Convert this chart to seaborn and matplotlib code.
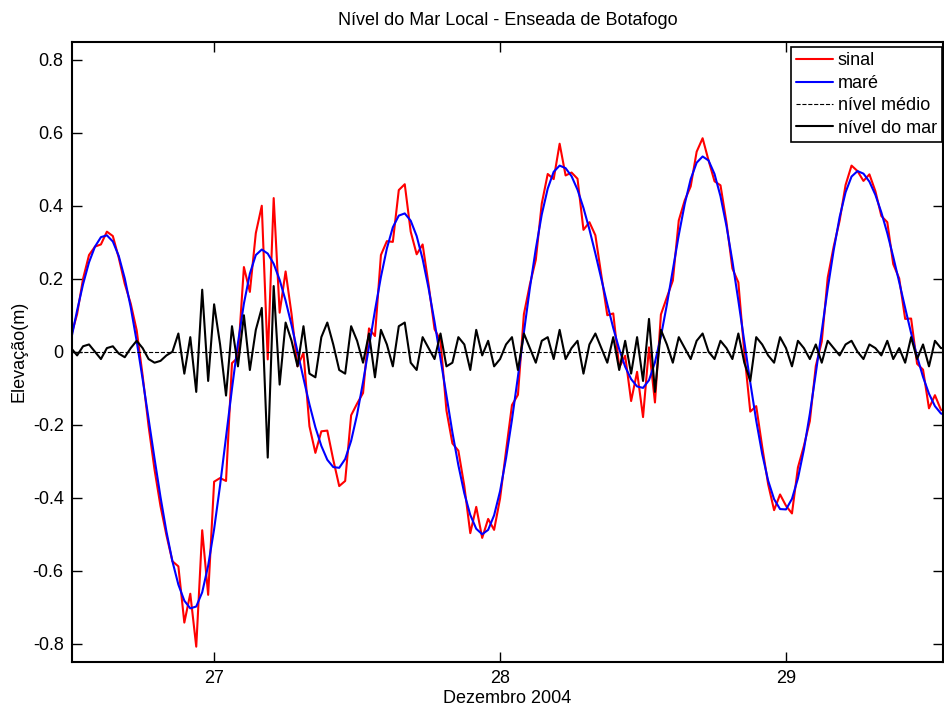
import numpy as np
import matplotlib
matplotlib.use("Agg")
import matplotlib.pyplot as plt
import seaborn as sns

# time grid: 30 min samples, days of December 2004
t0 = 26.5
n_amostras = 148
tempo = t0 + np.arange(n_amostras) / 48.0

# predicted tide (m)
mare = [
    0.034, 0.113, 0.185, 0.245, 0.288, 0.314,
    0.319, 0.302, 0.262, 0.201, 0.122, 0.029, -0.075, -0.184, -0.293, -0.398, -0.493, -0.574, -0.638, -0.682, -0.703,
    -0.698, -0.659, -0.586, -0.486, -0.366, -0.234, -0.101, 0.024, 0.132, 0.214, 0.265,
    0.280, 0.269, 0.241, 0.197, 0.140, 0.073, 0.000, -0.073, -0.144, -0.207, -0.258, -0.296, -0.316,
    -0.318, -0.294, -0.244, -0.172, -0.083, 0.014, 0.113, 0.205, 0.283, 0.341, 0.373,
    0.379, 0.359, 0.317, 0.254, 0.174, 0.082, -0.019, -0.121, -0.221, -0.311, -0.388, -0.447, -0.485, -0.500,
    -0.488, -0.448, -0.382, -0.292, -0.186, -0.068, 0.053, 0.174, 0.282, 0.376, 0.447, 0.493, 0.510,
    0.503, 0.481, 0.444, 0.394, 0.335, 0.269, 0.199, 0.130, 0.065, 0.007, -0.041, -0.075, -0.095,
    -0.099, -0.078, -0.029, 0.042, 0.129, 0.225, 0.320, 0.405, 0.473, 0.518,
    0.535, 0.524, 0.487, 0.426, 0.345, 0.248, 0.140, 0.027, -0.084, -0.189, -0.280, -0.353, -0.404, -0.431,
    -0.432, -0.403, -0.347, -0.268, -0.170, -0.059, 0.058, 0.173, 0.278, 0.369, 0.437, 0.480,
    0.495, 0.488, 0.466, 0.430, 0.382, 0.325, 0.260, 0.191, 0.120, 0.051, -0.013, -0.069, -0.115, -0.149, -0.169, -0.175,
]

# residual sea level (m)
nivel_mar = [
    0.01, -0.01, 0.015, 0.02, 0.00, -0.02, 0.01, 0.015, -0.005, -0.015, 0.01, 0.03,
    0.01, -0.02, -0.03, -0.025, -0.01, 0.00, 0.05, -0.06, 0.04, -0.11, 0.17, -0.08,
    0.13, 0.02, -0.12, 0.07, -0.04, 0.10, -0.05, 0.06, 0.12, -0.29, 0.18, -0.09,
    0.08, 0.03, -0.04, 0.07, -0.06, -0.07, 0.04, 0.08, 0.02, -0.05, -0.06, 0.07,
    0.03, -0.03, 0.05, -0.07, 0.06, 0.02, -0.04, 0.07, 0.08, -0.03, -0.05, 0.04,
    0.01, -0.02, 0.05, -0.04, -0.03, 0.04, 0.02, -0.05, 0.06, -0.01, 0.03, -0.04,
    -0.02, 0.02, 0.04, -0.05, 0.05, 0.01, -0.03, 0.03, 0.04, -0.02, 0.06, -0.02,
    0.01, 0.03, -0.06, 0.02, 0.05, 0.01, -0.03, 0.04, -0.05, 0.03, -0.06, 0.04,
    -0.08, 0.09, -0.11, 0.06, 0.02, -0.03, 0.04, 0.01, -0.02, 0.03, 0.05, 0.00,
    -0.02, 0.03, 0.01, -0.02, 0.05, -0.03, -0.08, 0.04, 0.02, -0.01, -0.03, 0.04,
    0.01, -0.04, 0.03, 0.01, -0.02, 0.02, -0.03, 0.03, 0.01, -0.01, 0.02, 0.03,
    0.00, -0.02, 0.02, 0.01, -0.01, 0.03, -0.02, 0.01, -0.03, 0.04, -0.02, 0.02,
    -0.04, 0.03, 0.01, 0.01,
]

nivel_medio = 0.0

# measured signal = tide + residual
sinal = np.array(mare) + np.array(nivel_mar)

x_ticks = [27, 28, 29]
y_ticks = [-0.8, -0.6, -0.4, -0.2, 0.0, 0.2, 0.4, 0.6, 0.8]
y_labels = ["-0.8", "-0.6", "-0.4", "-0.2", "0", "0.2", "0.4", "0.6", "0.8"]

sns.set_style("ticks")
plt.rcParams["font.family"] = ["Liberation Sans", "DejaVu Sans"]
for key in ["text.color", "axes.labelcolor", "xtick.color", "ytick.color", "axes.edgecolor"]:
    plt.rcParams[key] = "black"

fig = plt.figure(figsize=(9.44, 7.07), dpi=100)
ax = fig.add_axes([72 / 944, 45 / 707, 871 / 944, 620.5 / 707])

sns.lineplot(x=tempo, y=sinal, color="#ff0000", lw=1.5, label="sinal", ax=ax, estimator=None)
sns.lineplot(x=tempo, y=mare, color="#0000ff", lw=1.5, label="maré", ax=ax, estimator=None)
ax.axhline(nivel_medio, color="black", ls="--", lw=0.8, label="nível médio")
sns.lineplot(x=tempo, y=nivel_mar, color="black", lw=1.5, label="nível do mar", ax=ax, estimator=None)

ax.set_xlim(26.503, 29.549)
ax.set_ylim(-0.85, 0.85)
ax.set_xticks(x_ticks)
ax.set_xticklabels([str(d) for d in x_ticks])
ax.set_yticks(y_ticks)
ax.set_yticklabels(y_labels)
ax.tick_params(direction="in", top=True, right=True, length=7, width=1, labelsize=13, pad=6)
for s in ax.spines.values():
    s.set_linewidth(1.5)
    s.set_visible(True)

ax.set_title("Nível do Mar Local - Enseada de Botafogo", fontsize=13, pad=12)
ax.set_xlabel("Dezembro 2004", fontsize=13, labelpad=2)
ax.set_ylabel("Elevação(m)", fontsize=13, labelpad=4)

leg = ax.legend(loc="upper left", bbox_to_anchor=(791 / 944, 1 - 47 / 707),
                bbox_transform=fig.transFigure, borderaxespad=0, fontsize=13,
                frameon=True, fancybox=False, framealpha=1, edgecolor="black",
                handlelength=2.0, handletextpad=0.3, labelspacing=0.3, borderpad=0.3)
leg.get_frame().set_linewidth(1.2)

fig.savefig("out.png", dpi=100)
